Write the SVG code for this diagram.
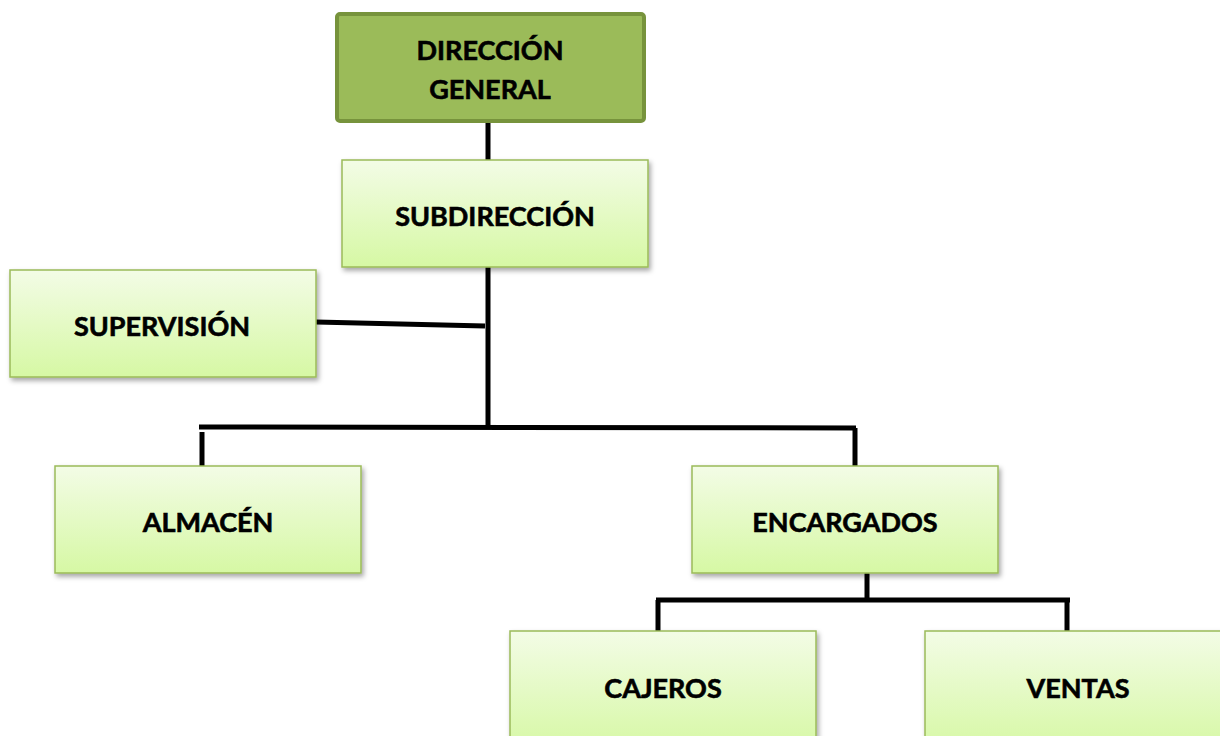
<svg xmlns="http://www.w3.org/2000/svg" width="1220" height="736" viewBox="0 0 1220 736">
<style>
.box{fill:url(#g);stroke:#9BBB59;stroke-width:1.5;filter:url(#sh)}
.t{font-family:Lato,"Open Sans",sans-serif;font-weight:bold;font-size:27px;fill:#000;stroke:#000;stroke-width:0.6;text-anchor:middle;dominant-baseline:central}
.c{stroke:#000;stroke-width:5;fill:none}
</style>
<defs>
<linearGradient id="g" x1="0" y1="0" x2="0" y2="1">
<stop offset="0" stop-color="#F3FCE6"/>
<stop offset="1" stop-color="#D6F8A4"/>
</linearGradient>
<filter id="sh" x="-10%" y="-10%" width="130%" height="140%">
<feDropShadow dx="2" dy="3" stdDeviation="2.5" flood-color="#000" flood-opacity="0.35"/>
</filter>
</defs>
<rect width="1220" height="736" fill="#fff"/>
<g id="connectors">
<line class="c" x1="488" y1="122" x2="488" y2="160"/>
<line class="c" x1="488" y1="267" x2="488" y2="429"/>
<line class="c" x1="316" y1="322" x2="485" y2="326"/>
<line class="c" x1="199" y1="427" x2="856" y2="428"/>
<line class="c" x1="202" y1="432" x2="202" y2="466"/>
<line class="c" x1="855" y1="428" x2="855" y2="466"/>
<line class="c" x1="867" y1="573" x2="867" y2="601"/>
<line class="c" x1="656" y1="600" x2="1070" y2="600"/>
<line class="c" x1="658" y1="600" x2="658" y2="631"/>
<line class="c" x1="1067" y1="600" x2="1067" y2="631"/>
</g>
<g id="direccion">
<rect x="337" y="14" width="307" height="107" rx="3" fill="#9BBB59" stroke="#77933C" stroke-width="4"/>
<text class="t" x="490" y="49">DIRECCIÓN</text>
<text class="t" x="490" y="88">GENERAL</text>
</g>
<g id="subdireccion">
<rect class="box" x="342" y="160" width="306" height="107"/>
<text class="t" x="495" y="215">SUBDIRECCIÓN</text>
</g>
<g id="supervision">
<rect class="box" x="10" y="270" width="306" height="107"/>
<text class="t" x="162" y="325">SUPERVISIÓN</text>
</g>
<g id="almacen">
<rect class="box" x="55" y="466" width="306" height="107"/>
<text class="t" x="208" y="521">ALMACÉN</text>
</g>
<g id="encargados">
<rect class="box" x="692" y="466" width="306" height="107"/>
<text class="t" x="845" y="521">ENCARGADOS</text>
</g>
<g id="cajeros">
<rect class="box" x="510" y="631" width="306" height="120"/>
<text class="t" x="663" y="687">CAJEROS</text>
</g>
<g id="ventas">
<rect class="box" x="925" y="631" width="306" height="120"/>
<text class="t" x="1078" y="687">VENTAS</text>
</g>
</svg>
